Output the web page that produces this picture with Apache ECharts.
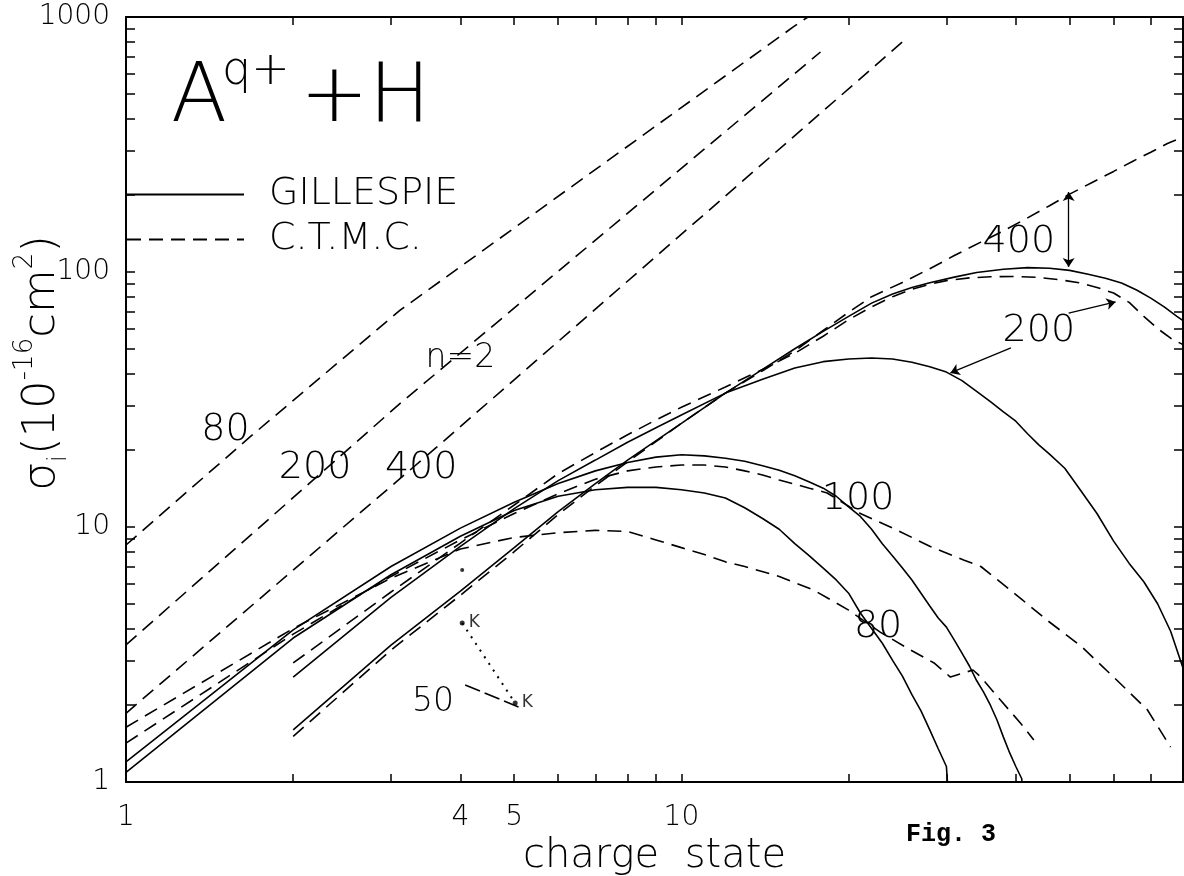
<!DOCTYPE html>
<html>
<head>
<meta charset="utf-8">
<script src="https://cdn.jsdelivr.net/npm/echarts@6/dist/echarts.min.js"></script>
<style>
  html, body { margin: 0; padding: 0; background: #fff; }
  #chart { width: 1184px; height: 876px; }
</style>
</head>
<body>
<div id="chart"></div>
<script>
// axis ticks / labels
const xTicks = [2, 3, 4, 5, 6, 7, 8, 9, 10, 20, 30, 40, 50, 60, 70];
const xLabels = [1, 4, 5, 10];
const yTicks = [2, 3, 4, 5, 6, 7, 8, 9, 10, 20, 30, 40, 50, 60, 70, 80, 90, 100,
  200, 300, 400, 500, 600, 700, 800, 900];
const yLabels = [1, 10, 100, 1000];

// GILLESPIE curves [charge state, sigma]
const g80 = [[1, 1.09], [2, 3.67], [3, 6.5], [4, 9.2], [5, 11.6], [6, 13.2], [7, 14.0], [8, 14.3],
  [9, 14.3], [10, 14.0], [11, 13.6], [12, 13.0], [13, 11.9], [14, 10.8], [15, 9.8], [16, 8.6],
  [17, 7.7], [18, 6.9], [19, 6.2], [20, 5.5], [21, 4.6], [22, 4.0], [23, 3.5], [24, 3.0],
  [25, 2.6], [26, 2.2], [27, 1.9], [28, 1.6], [29, 1.35], [30, 1.15], [31, 0.4]];
const g100 = [[1, 1.2], [2, 3.95], [3, 7.0], [4, 9.9], [5, 12.5], [6, 14.8], [7, 16.6], [8, 17.9],
  [9, 18.8], [10, 19.2], [11, 19.0], [12, 18.6], [13, 18.1], [14, 17.4], [15, 16.7], [16, 15.9],
  [17, 15.0], [18, 14.2], [19, 13.2], [20, 12.0], [21, 11.0], [22, 9.8], [23, 8.6], [24, 7.7],
  [25, 6.9], [26, 6.2], [27, 5.5], [28, 4.9], [29, 4.4], [30, 4.05], [31, 3.6], [32, 3.2],
  [33, 2.85], [34, 2.5], [35, 2.25], [36, 2.0], [37, 1.75], [38, 1.5], [39, 1.3], [40, 1.15],
  [41, 1.03], [42, 0.4]];
const g200 = [[2, 2.58], [3, 5.3], [4, 8.4], [5, 11.8], [6, 15.2], [7, 18.3], [8, 21.5], [9, 24.5],
  [10, 27.5], [12, 33.5], [14, 38], [16, 42], [18, 44.5], [20, 45.6], [22, 46], [24, 45.6],
  [26, 44.3], [28, 42.5], [30, 40.5], [32, 37.5], [34, 34], [36, 31], [38, 28.3], [40, 26],
  [42, 23.2], [44, 21], [46, 19.3], [49, 17], [52, 14.2], [56, 11.3], [60, 8.8], [64, 7.2],
  [68, 6.1], [72, 5.0], [76, 3.9], [80, 2.8]];
const g400 = [[2, 1.6], [3, 3.44], [4, 5.6], [5, 8.3], [6, 11.5], [7, 14.8], [8, 18.3], [10, 25.5],
  [12, 33.5], [14, 41.5], [16, 50], [18, 58.5], [20, 67], [22, 75.5], [24, 82], [26, 87],
  [28, 90.8], [31, 95.5], [34, 99.5], [38, 102.5], [42, 104], [46, 103.5], [50, 101.5], [54, 98],
  [58, 94.5], [62, 90.5], [66, 85], [70, 79], [74, 73], [78, 67], [80, 64.5]];

// C.T.M.C. curves
const c80 = [[1, 1.64], [2, 4.0], [3, 6.3], [4, 8.2], [5, 9.1], [6, 9.5], [7, 9.7], [8, 9.6],
  [9, 8.9], [10, 8.3], [11, 7.8], [12, 7.3], [13, 7.0], [15, 6.4], [17.3, 5.66], [20, 4.72],
  [22.8, 3.87], [25.5, 3.35], [28.5, 2.93], [30.5, 2.58], [33.5, 2.75], [34.6, 2.58],
  [37.5, 2.1], [40.8, 1.7], [43.1, 1.46]];
const c100 = [[1, 1.42], [2, 3.8], [3, 6.4], [4, 8.9], [5, 11.3], [6, 13.5], [7, 15.4], [8, 16.6],
  [9, 17.2], [10, 17.5], [11, 17.5], [12, 17.2], [13, 16.6], [14, 16.0], [15, 15.3], [17, 14.2],
  [18.3, 13.6], [21, 11.3], [24.5, 9.7], [28, 8.4], [32.3, 7.4], [34.6, 7.0], [37.1, 6.2],
  [41, 5.2], [45.6, 4.3], [52.5, 3.4], [60, 2.58], [69, 1.92], [76, 1.37]];
const c200 = [[2, 2.93], [3, 5.56], [4, 8.65], [5, 12.2], [6, 16.2], [7, 19.6], [8, 23], [9, 26.3],
  [10, 29.5], [12, 35.4], [14, 41.5], [16, 48], [18, 56], [20, 65], [22, 73], [24, 80],
  [26, 85.5], [28, 89.5], [30, 92.5], [33, 94.8], [36, 95.8], [40, 96], [44, 95.2], [48, 93.2],
  [52, 90.8], [56, 87], [60, 82.7], [64, 76], [68, 67], [72, 60], [76, 55], [80, 51.9]];
const c400 = [[2, 1.51], [3, 3.29], [4, 5.4], [5, 8.0], [6, 11.2], [7, 14.5], [8, 18], [10, 25.5],
  [12, 33.5], [14, 41], [16, 49], [18, 59], [20, 69.5], [22, 80], [25, 91], [28, 103], [31, 116],
  [34.6, 131], [38, 145], [42, 163], [46, 182], [50, 202], [55, 225], [60, 248], [65, 272],
  [70, 295], [75, 319], [80, 338]];

// n=2 lines
const n2e80 = [[1, 8.5], [1.67, 22.5], [3.12, 71], [15.9, 914], [16.9, 1000]];
const n2e200 = [[1, 3.45], [3.12, 30.6], [17.8, 729]];
const n2e400 = [[1, 1.86], [3.63, 20.6], [25.6, 835]];

// 50 keV and K markers
const fifty = [[4.08, 2.4], [5.09, 1.97]];
const kPoints = [[4.03, 4.2], [5.02, 2.04]];
const strayDots = [[4.03, 6.78]];

// arrows
const singleArrows = [[[49.8, 69], [60.5, 76.3]], [[39.2, 50.4], [30.5, 40.2]]];
const doubleArrows = [[[49.8, 206], [49.8, 104.7]]];

// in-plot labels [x, y, text]
const bigLabels = [[1.51, 24.0, '80'], [2.19, 17.0, '200'], [3.4, 17.0, '400'],
  [40.5, 131, '400'], [44.0, 58.7, '200'], [20.8, 12.9, '100'], [22.6, 4.05, '80']];
const midLabels = [[4.0, 46.0, 'n=2'], [3.57, 2.06, '50']];

const FONT = 'DejaVu Sans';
const DASH = [14, 8];

function curve(name, data, dashed) {
  return {
    name: name,
    type: 'line',
    data: data,
    symbol: 'none',
    showSymbol: false,
    silent: true,
    itemStyle: { color: '#000' },
    lineStyle: { color: '#000', width: 1.6, type: dashed ? DASH : 'solid' },
  };
}

function axisBase(extra) {
  return Object.assign({
    type: 'log',
    logBase: 10,
    axisLine: { show: true, lineStyle: { color: '#000', width: 2 } },
    splitLine: { show: false },
    minorTick: { show: false },
  }, extra);
}

const tickLabelStyle = { fontFamily: FONT, fontWeight: 200, fontSize: 28, color: '#000' };

const staticGraphic = [
  // A^{q+} + H
  { type: 'text', x: 171, y: 100, silent: true,
    style: { text: 'A', fontFamily: FONT, fontWeight: 200, fontSize: 82, fill: '#000', verticalAlign: 'middle' } },
  { type: 'text', x: 222, y: 72, silent: true,
    style: { text: 'q+', fontFamily: FONT, fontWeight: 200, fontSize: 46, fill: '#000', verticalAlign: 'middle' } },
  { type: 'text', x: 300, y: 100, silent: true,
    style: { text: '+H', fontFamily: FONT, fontWeight: 200, fontSize: 82, fill: '#000', verticalAlign: 'middle' } },
  // y axis title
  { type: 'text', x: 42, y: 363, rotation: Math.PI / 2, silent: true,
    style: {
      text: '{m|σ}{sub|i}{m|(10}{sup|-16}{m|cm}{sup|2}{m|)}',
      align: 'center', verticalAlign: 'middle', fill: '#000',
      rich: {
        m: { fontFamily: FONT, fontWeight: 200, fontSize: 45, lineHeight: 60, verticalAlign: 'middle' },
        sub: { fontFamily: FONT, fontWeight: 200, fontSize: 26, lineHeight: 26, verticalAlign: 'bottom' },
        sup: { fontFamily: FONT, fontWeight: 200, fontSize: 26, lineHeight: 26, verticalAlign: 'top' },
      },
    } },
  { type: 'text', x: 951, y: 835, silent: true,
    style: { text: 'Fig. 3', fontFamily: 'Liberation Mono', fontWeight: 'bold', fontSize: 25, fill: '#000',
      align: 'center', verticalAlign: 'middle' } },
];

let option = {
  animation: false,
  backgroundColor: '#fff',
  grid: { left: 126, right: 1, top: 17, bottom: 94, containLabel: false, outerBoundsMode: 'none' },

  legend: {
    data: ['GILLESPIE', 'C.T.M.C.'],
    orient: 'vertical',
    left: 126,
    top: 172,
    padding: 0,
    itemGap: 0,
    itemWidth: 117,
    itemHeight: 14,
    selectedMode: false,
    itemStyle: { opacity: 0, borderWidth: 0 },
    textStyle: {
      fontFamily: FONT, fontWeight: 200, fontSize: 38, lineHeight: 45,
      color: '#000', padding: [0, 0, 0, 20],
    },
  },

  xAxis: [
    axisBase({
      min: 1, max: 80, position: 'bottom',
      axisTick: { inside: true, length: 8, customValues: xTicks, lineStyle: { color: '#000', width: 1.5 } },
      axisLabel: Object.assign({ customValues: xLabels, margin: 22, formatter: (v) => String(Math.round(v)) }, tickLabelStyle),
      name: 'charge  state',
      nameLocation: 'middle',
      nameGap: 43,
      nameTextStyle: { fontFamily: FONT, fontWeight: 200, fontSize: 40, color: '#000' },
    }),
    axisBase({
      min: 1, max: 80, position: 'top',
      axisTick: { inside: true, length: 8, customValues: xTicks, lineStyle: { color: '#000', width: 1.5 } },
      axisLabel: { show: false },
    }),
  ],
  yAxis: [
    axisBase({
      min: 1, max: 1000, position: 'left',
      axisTick: { inside: true, length: 9, customValues: yTicks, lineStyle: { color: '#000', width: 1.5 } },
      axisLabel: Object.assign({ customValues: yLabels, margin: 16, formatter: (v) => String(Math.round(v)) }, tickLabelStyle),
    }),
    axisBase({
      min: 1, max: 1000, position: 'right',
      axisTick: { inside: true, length: 9, customValues: yTicks, lineStyle: { color: '#000', width: 1.5 } },
      axisLabel: { show: false },
    }),
  ],

  series: [
    curve('GILLESPIE', g80, false),
    curve('GILLESPIE', g100, false),
    curve('GILLESPIE', g200, false),
    curve('GILLESPIE', g400, false),
    curve('C.T.M.C.', c80, true),
    curve('C.T.M.C.', c100, true),
    curve('C.T.M.C.', c200, true),
    curve('C.T.M.C.', c400, true),
    curve('n=2 80', n2e80, true),
    curve('n=2 200', n2e200, true),
    curve('n=2 400', n2e400, true),
    {
      name: '50', type: 'line', data: fifty, symbol: 'none', silent: true,
      lineStyle: { color: '#000', width: 1.6, type: [16, 5] },
    },
    {
      name: 'K link', type: 'line', data: kPoints, symbol: 'none', silent: true,
      lineStyle: { color: '#000', width: 2, type: [2, 6] },
    },
    {
      name: 'K', type: 'scatter', data: kPoints, symbol: 'circle', symbolSize: 5, silent: true,
      itemStyle: { color: '#000' },
      label: { show: true, position: 'right', distance: 4, formatter: 'K', fontFamily: FONT, fontSize: 17, color: '#000' },
    },
    {
      type: 'scatter', data: strayDots, symbolSize: 4, silent: true, itemStyle: { color: '#000' },
    },
    {
      type: 'lines', coordinateSystem: 'cartesian2d', silent: true,
      data: singleArrows.map((c) => ({ coords: c })),
      symbol: ['none', 'arrow'], symbolSize: 9,
      lineStyle: { color: '#000', width: 1.3, opacity: 1 },
    },
    {
      type: 'lines', coordinateSystem: 'cartesian2d', silent: true,
      data: doubleArrows.map((c) => ({ coords: c })),
      symbol: ['arrow', 'arrow'], symbolSize: 9,
      lineStyle: { color: '#000', width: 1.3, opacity: 1 },
    },
  ],

  graphic: staticGraphic,
};

const chart = echarts.init(document.getElementById('chart'));
chart.setOption(option, true);

// curve labels placed at data coordinates through the chart's own scales
function labelText(item, size) {
  const p = chart.convertToPixel({ gridIndex: 0 }, [item[0], item[1]]);
  return {
    type: 'text', x: p[0], y: p[1], silent: true, z: 10,
    style: { text: item[2], fontFamily: FONT, fontWeight: 200, fontSize: size, fill: '#000',
      align: 'center', verticalAlign: 'middle' },
  };
}
chart.setOption({
  graphic: staticGraphic
    .concat(bigLabels.map((d) => labelText(d, 38)))
    .concat(midLabels.map((d) => labelText(d, 33))),
});
</script>
</body>
</html>
